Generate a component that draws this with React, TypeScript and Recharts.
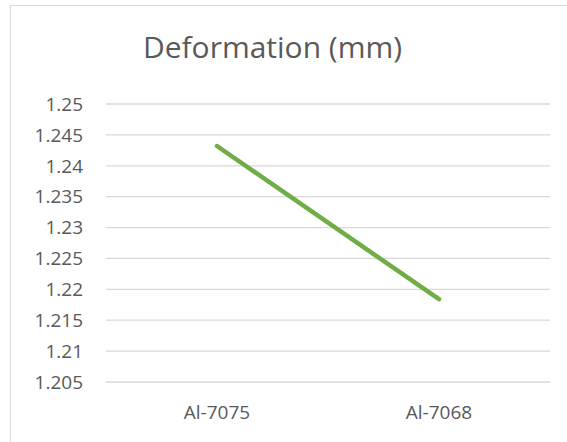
import { CartesianGrid, Line, LineChart, XAxis, YAxis } from "recharts";

const materials = ["Al-7075", "Al-7068"];
const deformation = [1.2432, 1.2184];
const yTicks = [1.205, 1.21, 1.215, 1.22, 1.225, 1.23, 1.235, 1.24, 1.245, 1.25];

const textColor = "#595959";
const gridColor = "#d9d9d9";
const lineColor = "#70ad47";
const font = "'Open Sans', sans-serif";

const chartData = materials.map((name, i) => ({ name, value: deformation[i] }));

export default function App() {
	return (
		<div
			style={{
				position: "absolute",
				left: 0,
				top: 0,
				width: 567,
				height: 442,
				background: "#fff",
				overflow: "hidden",
				fontFamily: font,
			}}
		>
			{/* chart frame, only left and top edges show in the crop */}
			<div
				style={{
					position: "absolute",
					left: 10,
					top: 5,
					width: 600,
					height: 500,
					borderLeft: `1.5px solid ${gridColor}`,
					borderTop: `1.5px solid ${gridColor}`,
				}}
			/>
			<div
				style={{
					position: "absolute",
					left: 0,
					top: 25,
					width: 545,
					textAlign: "center",
					fontSize: 30,
					color: textColor,
					lineHeight: "44px",
				}}
			>
				Deformation (mm)
			</div>
			<LineChart
				width={567}
				height={442}
				data={chartData}
				margin={{ top: 104, right: 17, bottom: 0, left: 0 }}
				style={{ position: "absolute", left: 0, top: 0 }}
			>
				<CartesianGrid horizontal vertical={false} stroke={gridColor} strokeWidth={1.3} />
				<XAxis
					dataKey="name"
					height={60}
					axisLine={false}
					tickLine={false}
					tickSize={0}
					tickMargin={24}
					padding={{ left: 111, right: 111 }}
					tick={{ fill: textColor, fontSize: 19, fontFamily: font }}
				/>
				<YAxis
					type="number"
					domain={[1.205, 1.25]}
					ticks={yTicks}
					interval={0}
					width={106}
					axisLine={false}
					tickLine={false}
					tickSize={0}
					tickMargin={23}
					tick={{ fill: textColor, fontSize: 19, fontFamily: font }}
				/>
				<Line
					type="linear"
					dataKey="value"
					stroke={lineColor}
					strokeWidth={4.5}
					strokeLinecap="round"
					dot={false}
					activeDot={false}
					isAnimationActive={false}
				/>
			</LineChart>
		</div>
	);
}
